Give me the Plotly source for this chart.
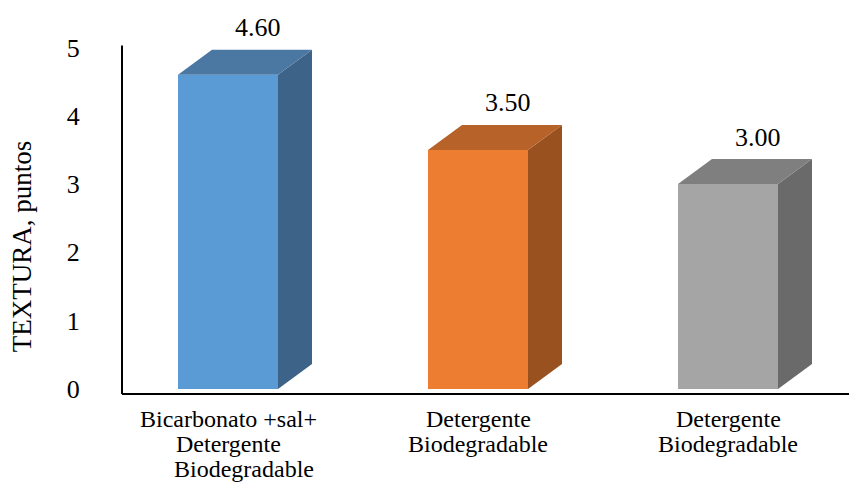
import plotly.graph_objects as go

# Data
category_lines = [
    ["Bicarbonato +sal+", "Detergente", "Biodegradable"],
    ["Detergente", "Biodegradable"],
    ["Detergente", "Biodegradable"],
]
values = [4.60, 3.50, 3.00]
value_labels = ["4.60", "3.50", "3.00"]
y_ticks = [0, 1, 2, 3, 4, 5]

# Face colours: front, top, side
front_colors = ["#5B9BD5", "#ED7D31", "#A5A5A5"]
top_colors = ["#4B77A3", "#B66229", "#7F7F7F"]
side_colors = ["#3E6389", "#9A5120", "#6A6A6A"]

FONT = "Liberation Serif, Times New Roman, serif"

# Geometry of the pseudo-3D bars (in axis units)
half_w = 0.2      # half of the front-face width
dx = 0.136        # depth offset along x
dy = 0.366        # depth offset along y

x_range = [-0.424, 2.484]
y_range = [-0.0732, 5.622]

fig = go.Figure()


def poly(xs, ys, color):
    fig.add_trace(go.Scatter(
        x=xs + [xs[0]], y=ys + [ys[0]], mode="lines", fill="toself",
        fillcolor=color, line=dict(width=0, color=color),
        hoverinfo="skip", showlegend=False,
    ))


for i, v in enumerate(values):
    xl, xr = i - half_w, i + half_w
    # front face
    poly([xl, xr, xr, xl], [0, 0, v, v], front_colors[i])
    # side face
    poly([xr, xr + dx, xr + dx, xr], [0, dy, v + dy, v], side_colors[i])
    # top face
    poly([xl, xl + dx, xr + dx, xr], [v, v + dy, v + dy, v], top_colors[i])
    # value label
    fig.add_annotation(
        x=i + 0.12, y=v + dy, yshift=22, text=value_labels[i],
        showarrow=False, xanchor="center", yanchor="middle",
        font=dict(family=FONT, size=26, color="#000000"),
    )

# Category labels, one annotation per line with tight line spacing
for i, lines in enumerate(category_lines):
    for k, line in enumerate(lines):
        # the last line of the three-line label sits slightly to the right
        xs = 16 if (len(lines) == 3 and k == 2) else 0
        fig.add_annotation(
            x=i, xref="x", y=0, yref="paper", yshift=-(25 + 25 * k),
            xshift=xs, text=line, showarrow=False,
            xanchor="center", yanchor="middle",
            font=dict(family=FONT, size=24, color="#000000"),
        )

# Axis lines
fig.add_shape(type="line", xref="paper", yref="y", x0=0, x1=0,
              y0=y_range[0], y1=5.03, line=dict(color="#000000", width=2))
fig.add_shape(type="line", xref="paper", yref="paper", x0=0, x1=1,
              y0=0, y1=0, line=dict(color="#000000", width=2))

# Axis title
fig.add_annotation(
    xref="paper", yref="paper", x=-0.1376, y=0.38, text="TEXTURA, puntos",
    textangle=-90, showarrow=False, xanchor="center", yanchor="middle",
    font=dict(family=FONT, size=27, color="#000000"),
)

fig.update_layout(
    width=849, height=483,
    margin=dict(l=122, r=0, t=5, b=89),
    paper_bgcolor="#FFFFFF", plot_bgcolor="#FFFFFF",
    showlegend=False,
    xaxis=dict(
        range=x_range, showticklabels=False,
        showgrid=False, zeroline=False, showline=False, ticks="",
        fixedrange=True, automargin=False,
    ),
    yaxis=dict(
        range=y_range, tickvals=y_ticks, ticktext=[str(t) for t in y_ticks],
        showgrid=False, zeroline=False, showline=False,
        ticks="outside", ticklen=36, tickcolor="#FFFFFF",
        tickfont=dict(family=FONT, size=26, color="#000000"),
        fixedrange=True, automargin=False,
    ),
)

fig.write_html("out.html")
